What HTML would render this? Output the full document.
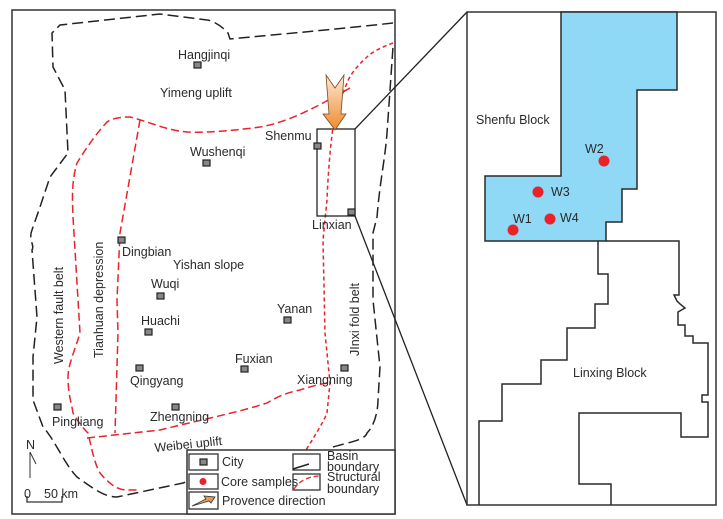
<!DOCTYPE html>
<html><head><meta charset="utf-8"><style>
html,body{margin:0;padding:0;background:#fff;}
svg{display:block;}
text{font-family:"Liberation Sans",Arial,sans-serif;font-size:12.5px;fill:#2a2a2a;}
</style></head><body>
<svg width="723" height="519" viewBox="0 0 723 519" xmlns="http://www.w3.org/2000/svg">
<defs>
<linearGradient id="ag" x1="0" y1="0" x2="0" y2="1">
<stop offset="0" stop-color="#fde9d6"/><stop offset="1" stop-color="#ef8a2e"/>
</linearGradient>
<linearGradient id="ag2" x1="0" y1="0" x2="1" y2="0">
<stop offset="0" stop-color="#f3c79a"/><stop offset="1" stop-color="#e8893a"/>
</linearGradient>
</defs>
<rect x="12" y="10" width="383" height="504" fill="none" stroke="#333" stroke-width="1.5"/>
<path d="M393,23 C330,30 260,36 230,39 L228,33 C220,24 210,20 207,20 L160,14 L60,25 L52,33 L53,67 L65,90 L68,153 L50,177 L40,207 L32,230 C28,240 35,245 32,250 L37,317 L33,357 L33,400 L43,427 C55,440 65,465 77,477 C95,490 105,497 117,497 L183,483 L220,470 M333,447 C350,442 365,440 367,433 C375,425 378,410 378,400 L380,367 L373,300 L373,233 L377,217 C380,180 385,160 387,133 L393,47" fill="none" stroke="#222" stroke-width="1.5" stroke-dasharray="11,5"/>
<path d="M350,88 C320,105 290,122 260,127 C230,131 205,133 187,132 C165,130 150,122 130,117 C115,117 110,120 107,122 C95,135 85,150 77,163 C72,180 72,195 73,217 L80,333 C75,350 68,365 68,377 C68,395 72,405 73,413 C80,425 85,430 88,433 C92,450 95,465 100,473 C110,485 118,490 127,490 L140,490" fill="none" stroke="#e8232a" stroke-width="1.5" stroke-dasharray="8,4"/>
<path d="M140,120 L120,233 L117,300 L118,333 L115,433" fill="none" stroke="#e8232a" stroke-width="1.5" stroke-dasharray="8,4"/>
<path d="M87,438 L160,430 C200,420 240,412 267,403 C280,395 290,392 300,390 C315,385 325,383 330,383" fill="none" stroke="#e8232a" stroke-width="1.5" stroke-dasharray="8,4"/>
<path d="M393,43 C380,48 372,52 367,57 C357,66 350,75 347,83 C340,100 335,115 333,127 C330,150 328,175 327,200 L323,240 L325,333 L330,383 L327,413 C322,425 312,440 303,455" fill="none" stroke="#e8232a" stroke-width="1.5" stroke-dasharray="4,3"/>
<rect x="317" y="129" width="38" height="87" fill="none" stroke="#222" stroke-width="1.3"/>
<line x1="355" y1="129" x2="467" y2="12" stroke="#222" stroke-width="1.3"/>
<line x1="355" y1="216" x2="467" y2="505" stroke="#222" stroke-width="1.3"/>
<polygon points="326,75 335,88 344,75 341,114 346,114 335,130 323,114 329,114" fill="url(#ag)" stroke="#7a4a1e" stroke-width="0.8"/>
<g fill="#888" stroke="#222" stroke-width="1.2">
<rect x="194" y="62" width="7" height="6"/>
<rect x="203" y="160" width="7" height="6"/>
<rect x="314" y="143" width="7" height="6"/>
<rect x="348" y="209" width="7" height="6"/>
<rect x="118" y="237" width="7" height="6"/>
<rect x="157" y="293" width="7" height="6"/>
<rect x="284" y="317" width="7" height="6"/>
<rect x="145" y="329" width="7" height="6"/>
<rect x="136" y="365" width="7" height="6"/>
<rect x="241" y="366" width="7" height="6"/>
<rect x="341" y="365" width="7" height="6"/>
<rect x="54" y="404" width="7" height="6"/>
<rect x="172" y="404" width="7" height="6"/>
</g>
<text x="178" y="59">Hangjinqi</text>
<text x="160" y="97">Yimeng uplift</text>
<text x="265" y="140">Shenmu</text>
<text x="190" y="156">Wushenqi</text>
<text x="312" y="229">Linxian</text>
<text x="122" y="256">Dingbian</text>
<text x="173" y="269">Yishan slope</text>
<text x="151" y="288">Wuqi</text>
<text x="141" y="325">Huachi</text>
<text x="277" y="313">Yanan</text>
<text x="235" y="363">Fuxian</text>
<text x="130" y="385">Qingyang</text>
<text x="297" y="384">Xiangning</text>
<text x="52" y="426">Pingliang</text>
<text x="150" y="421">Zhengning</text>
<text x="155" y="452" transform="rotate(-6 155 452)">Weibei uplift</text>
<text transform="translate(63,364) rotate(-90)">Western fault belt</text>
<text transform="translate(103,358) rotate(-90)">Tianhuan depression</text>
<text transform="translate(359,356) rotate(-90)">JInxi fold belt</text>
<text x="26" y="449">N</text>
<line x1="30" y1="452" x2="30" y2="478" stroke="#333" stroke-width="1"/>
<line x1="30" y1="452" x2="36" y2="464" stroke="#333" stroke-width="1"/>
<text x="24" y="498">0</text>
<text x="44" y="498">50 km</text>
<path d="M27,496 L27,502 L62,502 L62,496" fill="none" stroke="#333" stroke-width="1.3"/>
<rect x="187" y="450" width="208" height="64" fill="#fff" stroke="#333" stroke-width="1.5"/>
<rect x="189" y="454" width="29" height="16" fill="none" stroke="#333" stroke-width="1.3"/>
<rect x="200" y="459" width="7" height="6" fill="#888" stroke="#222" stroke-width="1.2"/>
<text x="222" y="466">City</text>
<rect x="189" y="474" width="29" height="15" fill="none" stroke="#333" stroke-width="1.3"/>
<circle cx="203" cy="481.5" r="3.5" fill="#e8232a"/>
<text x="221" y="486">Core samples</text>
<rect x="189" y="492" width="29" height="17" fill="none" stroke="#333" stroke-width="1.3"/>
<polygon points="192,506 206,499 204,496 215,497 211,503 209,501" fill="url(#ag2)" stroke="#333" stroke-width="0.8"/>
<text x="222" y="505">Provence direction</text>
<rect x="293" y="454" width="27" height="16" fill="none" stroke="#333" stroke-width="1.3"/>
<line x1="293" y1="469" x2="309" y2="464" stroke="#222" stroke-width="1.5"/>
<text x="327" y="460">Basin</text>
<text x="327" y="471">boundary</text>
<rect x="293" y="474" width="27" height="16" fill="none" stroke="#333" stroke-width="1.3"/>
<path d="M294,489 C300,480 308,477 319,476" fill="none" stroke="#e8232a" stroke-width="1.3" stroke-dasharray="5,3"/>
<text x="327" y="481">Structural</text>
<text x="327" y="493">boundary</text>
<rect x="467" y="12" width="249" height="493" fill="#fff" stroke="#333" stroke-width="1.5"/>
<polygon points="561,12 677,12 677,90 637,90 637,189 622,189 622,222 606,222 606,241 485,241 485,176 561,176" fill="#8fd8f6" stroke="#2a2a2a" stroke-width="1.5"/>
<polyline points="598,241 598,274 608,274 608,304 595,304 595,328 567,328 567,360 541,360 541,384 502,384 502,421 479,421 479,505" fill="none" stroke="#2a2a2a" stroke-width="1.5"/>
<polyline points="606,241 679,241 679,295 674,295 677,301 680,304 685,308 678,312 678,325 685,325 685,336 693,336 693,343 708,343 708,395 702,395 702,402 708,402 708,437 681,437 681,413 579,413 579,484 611,484 611,505" fill="none" stroke="#2a2a2a" stroke-width="1.5"/>
<g fill="#e8232a">
<circle cx="604" cy="161" r="5.5"/>
<circle cx="538" cy="192" r="5.5"/>
<circle cx="513" cy="230" r="5.5"/>
<circle cx="550" cy="219" r="5.5"/>
</g>
<text x="476" y="124">Shenfu Block</text>
<text x="585" y="153">W2</text>
<text x="551" y="196">W3</text>
<text x="513" y="223">W1</text>
<text x="560" y="222">W4</text>
<text x="573" y="377">Linxing Block</text>
</svg>
</body></html>
